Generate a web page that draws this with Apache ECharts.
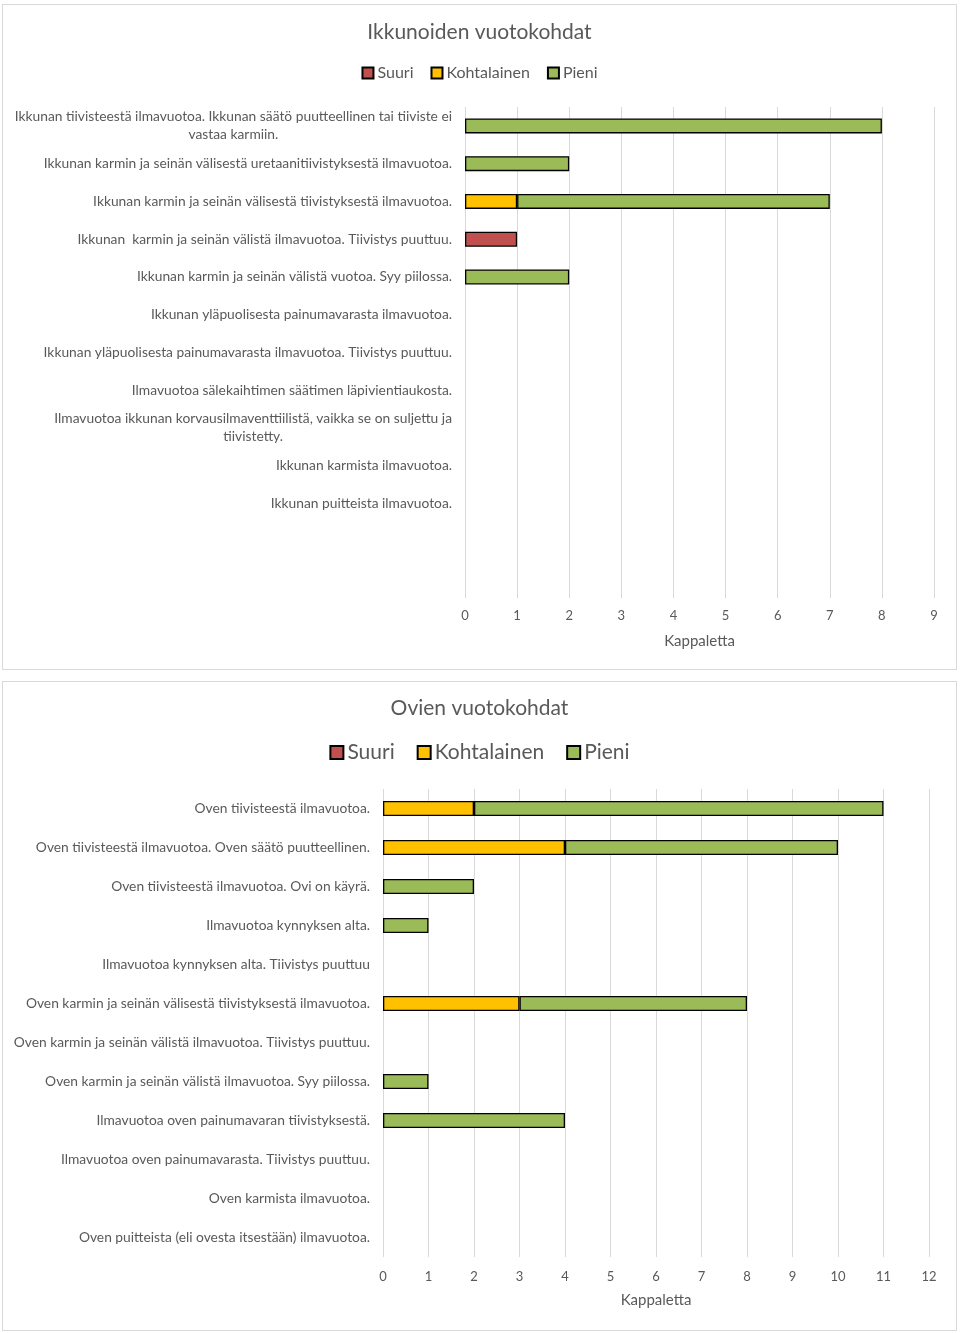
<!DOCTYPE html>
<html>
<head>
<meta charset="utf-8">
<script src="https://cdn.jsdelivr.net/npm/echarts@6/dist/echarts.min.js"></script>
<style>
  html, body { margin: 0; padding: 0; background: #fff; }
  body { width: 960px; height: 1333px; position: relative; }
  .box { position: absolute; border: 1px solid #d9d9d9; box-sizing: border-box; background: #fff; }
  #c1 { left: 2px; top: 4px; width: 955px; height: 666px; }
  #c2 { left: 2px; top: 681px; width: 955px; height: 650px; }
</style>
</head>
<body>
<div id="c1" class="box"></div>
<div id="c2" class="box"></div>
<script>
const seriesNames = ['Suuri', 'Kohtalainen', 'Pieni'];
const seriesColors = ['#C0504D', '#FFC000', '#9BBB59'];

const windowTitle = 'Ikkunoiden vuotokohdat';
const windowCategories = [
  'Ikkunan tiivisteestä ilmavuotoa. Ikkunan säätö puutteellinen tai tiiviste ei\nvastaa karmiin.',
  'Ikkunan karmin ja seinän välisestä uretaanitiivistyksestä ilmavuotoa.',
  'Ikkunan karmin ja seinän välisestä tiivistyksestä ilmavuotoa.',
  'Ikkunan  karmin ja seinän välistä ilmavuotoa. Tiivistys puuttuu.',
  'Ikkunan karmin ja seinän välistä vuotoa. Syy piilossa.',
  'Ikkunan yläpuolisesta painumavarasta ilmavuotoa.',
  'Ikkunan yläpuolisesta painumavarasta ilmavuotoa. Tiivistys puuttuu.',
  'Ilmavuotoa sälekaihtimen säätimen läpivientiaukosta.',
  'Ilmavuotoa ikkunan korvausilmaventtiilistä, vaikka se on suljettu ja\ntiivistetty.',
  'Ikkunan karmista ilmavuotoa.',
  'Ikkunan puitteista ilmavuotoa.',
  '',
  ''
];
const windowSuuri       = [0, 0, 0, 1, 0, 0, 0, 0, 0, 0, 0, 0, 0];
const windowKohtalainen = [0, 0, 1, 0, 0, 0, 0, 0, 0, 0, 0, 0, 0];
const windowPieni       = [8, 2, 6, 0, 2, 0, 0, 0, 0, 0, 0, 0, 0];
const windowAxisMax = 9;

const doorTitle = 'Ovien vuotokohdat';
const doorCategories = [
  'Oven tiivisteestä ilmavuotoa.',
  'Oven tiivisteestä ilmavuotoa. Oven säätö puutteellinen.',
  'Oven tiivisteestä ilmavuotoa. Ovi on käyrä.',
  'Ilmavuotoa kynnyksen alta.',
  'Ilmavuotoa kynnyksen alta. Tiivistys puuttuu',
  'Oven karmin ja seinän välisestä tiivistyksestä ilmavuotoa.',
  'Oven karmin ja seinän välistä ilmavuotoa. Tiivistys puuttuu.',
  'Oven karmin ja seinän välistä ilmavuotoa. Syy piilossa.',
  'Ilmavuotoa oven painumavaran tiivistyksestä.',
  'Ilmavuotoa oven painumavarasta. Tiivistys puuttuu.',
  'Oven karmista ilmavuotoa.',
  'Oven puitteista (eli ovesta itsestään) ilmavuotoa.'
];
const doorSuuri       = [0, 0, 0, 0, 0, 0, 0, 0, 0, 0, 0, 0];
const doorKohtalainen = [2, 4, 0, 0, 0, 3, 0, 0, 0, 0, 0, 0];
const doorPieni       = [9, 6, 2, 1, 0, 5, 0, 1, 4, 0, 0, 0];
const doorAxisMax = 12;

const axisName = 'Kappaletta';
const FONT = 'Lato, "Noto Sans", sans-serif';
const TXT = '#595959';

function buildOption(cfg) {
  const data = [cfg.suuri, cfg.kohta, cfg.pieni];
  return {
    animation: false,
    textStyle: { fontFamily: FONT },
    title: {
      text: cfg.title, left: 'center', top: cfg.titleTop,
      textStyle: { fontFamily: FONT, fontWeight: 'normal', fontSize: cfg.titleSize, color: TXT }
    },
    legend: {
      top: cfg.legendTop, left: 'center',
      itemWidth: cfg.legendIcon, itemHeight: cfg.legendIcon, itemGap: cfg.legendGap,
      icon: 'rect',
      textStyle: { fontFamily: FONT, fontSize: cfg.legendSize, color: TXT, padding: [0, 0, 0, -1] },
      data: seriesNames
    },
    grid: { left: cfg.gridLeft, right: cfg.gridRight, top: cfg.gridTop, bottom: cfg.gridBottom, containLabel: false },
    xAxis: {
      type: 'value', min: 0, max: cfg.max, interval: 1,
      name: axisName, nameLocation: 'middle', nameGap: cfg.nameGap,
      nameTextStyle: { fontFamily: FONT, fontSize: 15, color: TXT },
      axisLine: { show: false }, axisTick: { show: false },
      axisLabel: { fontFamily: FONT, fontSize: 13, color: TXT, margin: cfg.labelMargin },
      splitLine: { show: true, lineStyle: { color: '#d9d9d9', width: 1 } }
    },
    yAxis: {
      type: 'category', inverse: true, data: cfg.categories,
      axisLine: { show: false }, axisTick: { show: false },
      axisLabel: {
        fontFamily: FONT, fontSize: 13.8, color: TXT, margin: 13, lineHeight: 18,
        formatter: function (v) {
          if (!v) return '';
          return v.split('\n').map(function (l) { return '{c|' + l + '}'; }).join('\n');
        },
        rich: { c: { align: 'center', fontFamily: FONT, fontSize: 13.8, color: TXT, lineHeight: 18 } }
      }
    },
    series: seriesNames.map(function (n, i) {
      return {
        name: n, type: 'bar', stack: 'total', barWidth: 15,
        itemStyle: { color: seriesColors[i], borderColor: '#000', borderWidth: 1.3 },
        data: data[i].map(function (v) { return v === 0 ? null : v; })
      };
    })
  };
}

const chart1 = echarts.init(document.getElementById('c1'), null, { renderer: 'canvas' });
chart1.setOption(buildOption({
  title: windowTitle, titleTop: 12, titleSize: 21,
  legendTop: 55, legendIcon: 11, legendGap: 17, legendSize: 16,
  gridLeft: 462, gridRight: 22, gridTop: 102, gridBottom: 71,
  categories: windowCategories, suuri: windowSuuri, kohta: windowKohtalainen, pieni: windowPieni,
  max: windowAxisMax, nameGap: 36, labelMargin: 11
}));

const chart2 = echarts.init(document.getElementById('c2'), null, { renderer: 'canvas' });
chart2.setOption(buildOption({
  title: doorTitle, titleTop: 11, titleSize: 21,
  legendTop: 55, legendIcon: 13, legendGap: 22, legendSize: 21,
  gridLeft: 380, gridRight: 27, gridTop: 107, gridBottom: 73,
  categories: doorCategories, suuri: doorSuuri, kohta: doorKohtalainen, pieni: doorPieni,
  max: doorAxisMax, nameGap: 36, labelMargin: 13
}));
</script>
</body>
</html>
